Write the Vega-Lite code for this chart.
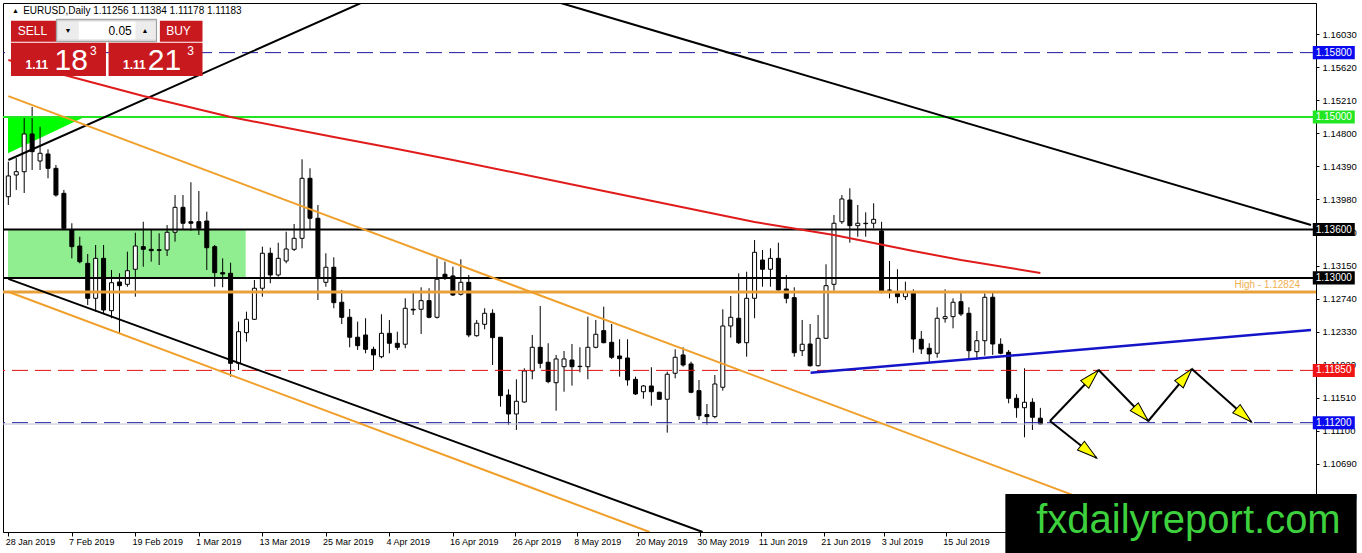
{
"$schema": "https://vega.github.io/schema/vega-lite/v6.json",
"width": 1313, "height": 529,
"autosize": {"type": "none"},
"padding": {"left": 3, "top": 3, "right": 46, "bottom": 21},
"background": "#ffffff",
"config": {"view": {"stroke": "#000000", "strokeWidth": 1}, "axis": {"grid": false, "domainColor": "#000000", "tickColor": "#000000", "labelColor": "#000000", "labelFont": "Liberation Sans", "labelFontSize": 9.5}, "axisX": {"labelFontSize": 9}},
"data": {"values": [{}]},
"datasets": {
"candles": [
{"i":0,"date":"2019-01-28","open":1.14009,"high":1.14444,"low":1.13906,"close":1.14267},
{"i":1,"date":"2019-01-29","open":1.14279,"high":1.14490,"low":1.14093,"close":1.14320},
{"i":2,"date":"2019-01-30","open":1.14320,"high":1.14988,"low":1.14055,"close":1.14789},
{"i":3,"date":"2019-01-31","open":1.14789,"high":1.15124,"low":1.14341,"close":1.14569},
{"i":4,"date":"2019-02-01","open":1.14453,"high":1.14879,"low":1.14341,"close":1.14549},
{"i":5,"date":"2019-02-04","open":1.14540,"high":1.14598,"low":1.14238,"close":1.14362},
{"i":6,"date":"2019-02-05","open":1.14362,"high":1.14403,"low":1.14009,"close":1.14030},
{"i":7,"date":"2019-02-06","open":1.14051,"high":1.14093,"low":1.13595,"close":1.13616},
{"i":8,"date":"2019-02-07","open":1.13595,"high":1.13679,"low":1.13243,"close":1.13388},
{"i":9,"date":"2019-02-08","open":1.13396,"high":1.13512,"low":1.13181,"close":1.13201},
{"i":10,"date":"2019-02-11","open":1.13181,"high":1.13297,"low":1.12663,"close":1.12746},
{"i":11,"date":"2019-02-12","open":1.12746,"high":1.13409,"low":1.12580,"close":1.13243},
{"i":12,"date":"2019-02-13","open":1.13243,"high":1.13409,"low":1.12560,"close":1.12601},
{"i":13,"date":"2019-02-14","open":1.12592,"high":1.13098,"low":1.12498,"close":1.12940},
{"i":14,"date":"2019-02-15","open":1.12949,"high":1.13057,"low":1.12311,"close":1.12903},
{"i":15,"date":"2019-02-18","open":1.12920,"high":1.13326,"low":1.12890,"close":1.13089},
{"i":16,"date":"2019-02-19","open":1.13107,"high":1.13562,"low":1.12766,"close":1.13396},
{"i":17,"date":"2019-02-20","open":1.13388,"high":1.13698,"low":1.13139,"close":1.13355},
{"i":18,"date":"2019-02-21","open":1.13355,"high":1.13595,"low":1.13201,"close":1.13338},
{"i":19,"date":"2019-02-22","open":1.13350,"high":1.13554,"low":1.13160,"close":1.13342},
{"i":20,"date":"2019-02-25","open":1.13347,"high":1.13657,"low":1.13272,"close":1.13567},
{"i":21,"date":"2019-02-26","open":1.13567,"high":1.14030,"low":1.13450,"close":1.13877},
{"i":22,"date":"2019-02-27","open":1.13877,"high":1.14030,"low":1.13595,"close":1.13679},
{"i":23,"date":"2019-02-28","open":1.13698,"high":1.14188,"low":1.13587,"close":1.13679},
{"i":24,"date":"2019-03-01","open":1.13698,"high":1.14080,"low":1.13533,"close":1.13616},
{"i":25,"date":"2019-03-04","open":1.13707,"high":1.13823,"low":1.13098,"close":1.13375},
{"i":26,"date":"2019-03-05","open":1.13388,"high":1.13409,"low":1.12890,"close":1.13065},
{"i":27,"date":"2019-03-06","open":1.13065,"high":1.13243,"low":1.12883,"close":1.13048},
{"i":28,"date":"2019-03-07","open":1.13057,"high":1.13189,"low":1.11772,"close":1.11938},
{"i":29,"date":"2019-03-08","open":1.11938,"high":1.12456,"low":1.11855,"close":1.12331},
{"i":30,"date":"2019-03-11","open":1.12319,"high":1.12580,"low":1.12207,"close":1.12485},
{"i":31,"date":"2019-03-12","open":1.12485,"high":1.12974,"low":1.12477,"close":1.12871},
{"i":32,"date":"2019-03-13","open":1.12871,"high":1.13388,"low":1.12766,"close":1.13306},
{"i":33,"date":"2019-03-14","open":1.13306,"high":1.13375,"low":1.12933,"close":1.13036},
{"i":34,"date":"2019-03-15","open":1.13036,"high":1.13437,"low":1.13015,"close":1.13243},
{"i":35,"date":"2019-03-18","open":1.13210,"high":1.13574,"low":1.13181,"close":1.13359},
{"i":36,"date":"2019-03-19","open":1.13355,"high":1.13670,"low":1.13334,"close":1.13492},
{"i":37,"date":"2019-03-20","open":1.13492,"high":1.14474,"low":1.13368,"close":1.14238},
{"i":38,"date":"2019-03-21","open":1.14238,"high":1.14362,"low":1.13595,"close":1.13741},
{"i":39,"date":"2019-03-22","open":1.13741,"high":1.13906,"low":1.12725,"close":1.12995},
{"i":40,"date":"2019-03-25","open":1.12945,"high":1.13306,"low":1.12890,"close":1.13132},
{"i":41,"date":"2019-03-26","open":1.13132,"high":1.13256,"low":1.12622,"close":1.12692},
{"i":42,"date":"2019-03-27","open":1.12697,"high":1.12849,"low":1.12427,"close":1.12510},
{"i":43,"date":"2019-03-28","open":1.12510,"high":1.12613,"low":1.12137,"close":1.12262},
{"i":44,"date":"2019-03-29","open":1.12262,"high":1.12456,"low":1.12104,"close":1.12157},
{"i":45,"date":"2019-04-01","open":1.12290,"high":1.12498,"low":1.12063,"close":1.12112},
{"i":46,"date":"2019-04-02","open":1.12112,"high":1.12145,"low":1.11855,"close":1.12042},
{"i":47,"date":"2019-04-03","open":1.12020,"high":1.12547,"low":1.12001,"close":1.12311},
{"i":48,"date":"2019-04-04","open":1.12311,"high":1.12477,"low":1.12063,"close":1.12187},
{"i":49,"date":"2019-04-05","open":1.12187,"high":1.12331,"low":1.12104,"close":1.12137},
{"i":50,"date":"2019-04-08","open":1.12175,"high":1.12746,"low":1.12125,"close":1.12622},
{"i":51,"date":"2019-04-09","open":1.12610,"high":1.12816,"low":1.12539,"close":1.12601},
{"i":52,"date":"2019-04-10","open":1.12610,"high":1.12883,"low":1.12303,"close":1.12717},
{"i":53,"date":"2019-04-11","open":1.12717,"high":1.12871,"low":1.12498,"close":1.12510},
{"i":54,"date":"2019-04-12","open":1.12510,"high":1.13243,"low":1.12495,"close":1.12983},
{"i":55,"date":"2019-04-15","open":1.13045,"high":1.13201,"low":1.12974,"close":1.13007},
{"i":56,"date":"2019-04-16","open":1.13024,"high":1.13139,"low":1.12775,"close":1.12787},
{"i":57,"date":"2019-04-17","open":1.12796,"high":1.13231,"low":1.12780,"close":1.12945},
{"i":58,"date":"2019-04-18","open":1.12945,"high":1.13036,"low":1.12262,"close":1.12290},
{"i":59,"date":"2019-04-19","open":1.12281,"high":1.12477,"low":1.12269,"close":1.12436},
{"i":60,"date":"2019-04-22","open":1.12423,"high":1.12622,"low":1.12361,"close":1.12560},
{"i":61,"date":"2019-04-23","open":1.12560,"high":1.12610,"low":1.11917,"close":1.12257},
{"i":62,"date":"2019-04-24","open":1.12262,"high":1.12265,"low":1.11399,"close":1.11536},
{"i":63,"date":"2019-04-25","open":1.11544,"high":1.11615,"low":1.11171,"close":1.11308},
{"i":64,"date":"2019-04-26","open":1.11308,"high":1.11739,"low":1.11109,"close":1.11466},
{"i":65,"date":"2019-04-29","open":1.11457,"high":1.11876,"low":1.11449,"close":1.11843},
{"i":66,"date":"2019-04-30","open":1.11843,"high":1.12290,"low":1.11739,"close":1.12137},
{"i":67,"date":"2019-05-01","open":1.12137,"high":1.12651,"low":1.11876,"close":1.11938},
{"i":68,"date":"2019-05-02","open":1.11951,"high":1.12187,"low":1.11690,"close":1.11710},
{"i":69,"date":"2019-05-03","open":1.11697,"high":1.12042,"low":1.11349,"close":1.11992},
{"i":70,"date":"2019-05-06","open":1.11896,"high":1.12091,"low":1.11585,"close":1.11992},
{"i":71,"date":"2019-05-07","open":1.11979,"high":1.12178,"low":1.11660,"close":1.11896},
{"i":72,"date":"2019-05-08","open":1.11897,"high":1.12137,"low":1.11826,"close":1.11901},
{"i":73,"date":"2019-05-09","open":1.11896,"high":1.12518,"low":1.11739,"close":1.12137},
{"i":74,"date":"2019-05-10","open":1.12137,"high":1.12477,"low":1.12125,"close":1.12299},
{"i":75,"date":"2019-05-13","open":1.12344,"high":1.12642,"low":1.12187,"close":1.12194},
{"i":76,"date":"2019-05-14","open":1.12199,"high":1.12427,"low":1.11992,"close":1.12013},
{"i":77,"date":"2019-05-15","open":1.12029,"high":1.12237,"low":1.11772,"close":1.11996},
{"i":78,"date":"2019-05-16","open":1.12004,"high":1.12237,"low":1.11660,"close":1.11731},
{"i":79,"date":"2019-05-17","open":1.11739,"high":1.11772,"low":1.11544,"close":1.11557},
{"i":80,"date":"2019-05-20","open":1.11585,"high":1.11669,"low":1.11498,"close":1.11656},
{"i":81,"date":"2019-05-21","open":1.11656,"high":1.11889,"low":1.11411,"close":1.11585},
{"i":82,"date":"2019-05-22","open":1.11578,"high":1.11585,"low":1.11482,"close":1.11491},
{"i":83,"date":"2019-05-23","open":1.11491,"high":1.11834,"low":1.11076,"close":1.11802},
{"i":84,"date":"2019-05-24","open":1.11814,"high":1.12112,"low":1.11752,"close":1.12013},
{"i":85,"date":"2019-05-27","open":1.12042,"high":1.12137,"low":1.11896,"close":1.11917},
{"i":86,"date":"2019-05-28","open":1.11930,"high":1.11958,"low":1.11566,"close":1.11578},
{"i":87,"date":"2019-05-29","open":1.11598,"high":1.11731,"low":1.11234,"close":1.11287},
{"i":88,"date":"2019-05-30","open":1.11300,"high":1.11432,"low":1.11171,"close":1.11275},
{"i":89,"date":"2019-05-31","open":1.11275,"high":1.11793,"low":1.11255,"close":1.11681},
{"i":90,"date":"2019-06-03","open":1.11640,"high":1.12610,"low":1.11598,"close":1.12402},
{"i":91,"date":"2019-06-04","open":1.12402,"high":1.12775,"low":1.12257,"close":1.12510},
{"i":92,"date":"2019-06-05","open":1.12498,"high":1.13057,"low":1.12178,"close":1.12194},
{"i":93,"date":"2019-06-06","open":1.12194,"high":1.13077,"low":1.12020,"close":1.12746},
{"i":94,"date":"2019-06-07","open":1.12746,"high":1.13471,"low":1.12498,"close":1.13318},
{"i":95,"date":"2019-06-10","open":1.13222,"high":1.13347,"low":1.12890,"close":1.13107},
{"i":96,"date":"2019-06-11","open":1.13107,"high":1.13368,"low":1.12890,"close":1.13243},
{"i":97,"date":"2019-06-12","open":1.13243,"high":1.13437,"low":1.12841,"close":1.12849},
{"i":98,"date":"2019-06-13","open":1.12862,"high":1.13036,"low":1.12684,"close":1.12746},
{"i":99,"date":"2019-06-14","open":1.12754,"high":1.12883,"low":1.12020,"close":1.12070},
{"i":100,"date":"2019-06-17","open":1.12095,"high":1.12477,"low":1.12029,"close":1.12175},
{"i":101,"date":"2019-06-18","open":1.12178,"high":1.12427,"low":1.11896,"close":1.11908},
{"i":102,"date":"2019-06-19","open":1.11908,"high":1.12539,"low":1.11900,"close":1.12249},
{"i":103,"date":"2019-06-20","open":1.12249,"high":1.13169,"low":1.12240,"close":1.12903},
{"i":104,"date":"2019-06-21","open":1.12920,"high":1.13782,"low":1.12841,"close":1.13679},
{"i":105,"date":"2019-06-24","open":1.13698,"high":1.14030,"low":1.13670,"close":1.13981},
{"i":106,"date":"2019-06-25","open":1.13968,"high":1.14114,"low":1.13437,"close":1.13649},
{"i":107,"date":"2019-06-26","open":1.13649,"high":1.13906,"low":1.13512,"close":1.13679},
{"i":108,"date":"2019-06-27","open":1.13679,"high":1.13815,"low":1.13512,"close":1.13674},
{"i":109,"date":"2019-06-28","open":1.13679,"high":1.13927,"low":1.13616,"close":1.13728},
{"i":110,"date":"2019-07-01","open":1.13583,"high":1.13698,"low":1.12808,"close":1.12837},
{"i":111,"date":"2019-07-02","open":1.12849,"high":1.13210,"low":1.12746,"close":1.12845},
{"i":112,"date":"2019-07-03","open":1.12808,"high":1.13107,"low":1.12684,"close":1.12766},
{"i":113,"date":"2019-07-04","open":1.12766,"high":1.12953,"low":1.12725,"close":1.12828},
{"i":114,"date":"2019-07-05","open":1.12816,"high":1.12858,"low":1.12070,"close":1.12240},
{"i":115,"date":"2019-07-08","open":1.12237,"high":1.12340,"low":1.12054,"close":1.12116},
{"i":116,"date":"2019-07-09","open":1.12125,"high":1.12187,"low":1.11958,"close":1.12054},
{"i":117,"date":"2019-07-10","open":1.12063,"high":1.12635,"low":1.12008,"close":1.12498},
{"i":118,"date":"2019-07-11","open":1.12493,"high":1.12858,"low":1.12443,"close":1.12518},
{"i":119,"date":"2019-07-12","open":1.12518,"high":1.12746,"low":1.12373,"close":1.12697},
{"i":120,"date":"2019-07-15","open":1.12704,"high":1.12816,"low":1.12526,"close":1.12551},
{"i":121,"date":"2019-07-16","open":1.12560,"high":1.12635,"low":1.11979,"close":1.12095},
{"i":122,"date":"2019-07-17","open":1.12083,"high":1.12340,"low":1.11979,"close":1.12219},
{"i":123,"date":"2019-07-18","open":1.12219,"high":1.12808,"low":1.12033,"close":1.12759},
{"i":124,"date":"2019-07-19","open":1.12759,"high":1.12816,"low":1.12042,"close":1.12178},
{"i":125,"date":"2019-07-22","open":1.12175,"high":1.12249,"low":1.12050,"close":1.12063},
{"i":126,"date":"2019-07-23","open":1.12075,"high":1.12104,"low":1.11441,"close":1.11503},
{"i":127,"date":"2019-07-24","open":1.11503,"high":1.11553,"low":1.11262,"close":1.11386},
{"i":128,"date":"2019-07-25","open":1.11386,"high":1.11876,"low":1.11019,"close":1.11454},
{"i":129,"date":"2019-07-26","open":1.11454,"high":1.11503,"low":1.11109,"close":1.11267},
{"i":130,"date":"2019-07-29","open":1.11256,"high":1.11384,"low":1.11178,"close":1.11183}
],
"ma": [
{"i":0,"ma":1.15708},{"i":8,"ma":1.15497},{"i":17,"ma":1.15261},{"i":28,"ma":1.15000},{"i":41,"ma":1.14751},{"i":49,"ma":1.14602},{"i":56,"ma":1.14465},{"i":75,"ma":1.14080},{"i":94,"ma":1.13695},{"i":104,"ma":1.13533},{"i":114,"ma":1.13334},{"i":120,"ma":1.13222},{"i":130,"ma":1.13061}
],
"levels": [
{"price":1.158,"label":"1.15800","group":"blue"},
{"price":1.15,"label":"1.15000","group":"green"},
{"price":1.136,"label":"1.13600","group":"black"},
{"price":1.13,"label":"1.13000","group":"black"},
{"price":1.1185,"label":"1.11850","group":"red"},
{"price":1.112,"label":"1.11200","group":"blue"}
],
"greenzone": [
{"i":-0.04,"lower":1.14549,"upper":1.15},
{"i":9.59,"lower":1.15,"upper":1.15}
],
"trends": [
{"line":"A","i":0,"price":1.14465},{"line":"A","i":44.34,"price":1.16413},
{"line":"B","i":69.59,"price":1.16417},{"line":"B","i":164.09,"price":1.13657},
{"line":"C","i":0,"price":1.12987},{"line":"C","i":87.46,"price":1.09841},
{"line":"D","i":0,"price":1.15259},{"line":"D","i":146.53,"price":1.09841},
{"line":"E","i":0,"price":1.12828},{"line":"E","i":80.78,"price":1.09841},
{"line":"F","i":101.05,"price":1.11822},{"line":"F","i":164.09,"price":1.12352}
],
"arrows": [
{"seg":1,"from_i":131.21,"from_p":1.11221,"to_i":137.34,"to_p":1.11855},
{"seg":2,"from_i":137.34,"from_p":1.11855,"to_i":143.59,"to_p":1.11221},
{"seg":3,"from_i":143.59,"from_p":1.11221,"to_i":149.09,"to_p":1.11868},
{"seg":4,"from_i":149.09,"from_p":1.11868,"to_i":156.59,"to_p":1.11209},
{"seg":5,"from_i":131.21,"from_p":1.11221,"to_i":137.09,"to_p":1.10761}
]
},
"layer": [
{"data": {"name": "candles"}, "mark": {"type": "rule", "opacity": 0},
 "encoding": {
  "x": {"field": "i", "type": "quantitative", "scale": {"domain": [-0.04, 164.09], "nice": false, "zero": false},
        "axis": {"orient": "bottom", "title": null, "values": [0, 7.96, 15.96, 23.96, 31.96, 39.96, 47.96, 55.96, 63.84, 71.59, 79.34, 87.09, 94.84, 102.71, 110.34, 118.09], "tickCount": 40,
                 "labelExpr": "datum.value < 4 ? '28 Jan 2019' : datum.value < 12 ? '7 Feb 2019' : datum.value < 20 ? '19 Feb 2019' : datum.value < 28 ? '1 Mar 2019' : datum.value < 36 ? '13 Mar 2019' : datum.value < 44 ? '25 Mar 2019' : datum.value < 52 ? '4 Apr 2019' : datum.value < 60 ? '16 Apr 2019' : datum.value < 67.7 ? '26 Apr 2019' : datum.value < 75.5 ? '8 May 2019' : datum.value < 83.2 ? '20 May 2019' : datum.value < 91 ? '30 May 2019' : datum.value < 98.8 ? '11 Jun 2019' : datum.value < 106.5 ? '21 Jun 2019' : datum.value < 114.2 ? '3 Jul 2019' : '15 Jul 2019'",
                 "labelAlign": "left", "labelFlush": false, "labelOverlap": false, "labelOffset": -3, "tickSize": 4, "labelPadding": 1}},
  "y": {"field": "low", "type": "quantitative", "scale": {"domain": [1.09841, 1.16417], "nice": false, "zero": false},
        "axis": {"orient": "right", "title": null, "values": [1.1028, 1.1069, 1.111, 1.1151, 1.1192, 1.1233, 1.1274, 1.1315, 1.1357, 1.1398, 1.1439, 1.148, 1.1521, 1.1562, 1.1603], "tickCount": 40, "format": ".5f", "tickSize": 3, "labelPadding": 3, "labelOverlap": false, "labelBaseline": "middle", "labelFlush": false}},
  "y2": {"field": "high"}}},
{"mark": {"type": "rect", "color": "#90ee90"}, "encoding": {"x": {"datum": -0.04}, "x2": {"datum": 29.9}, "y": {"datum": 1.136}, "y2": {"datum": 1.13}}},
{"data": {"name": "greenzone"}, "mark": {"type": "area", "color": "#00ff00", "opacity": 1}, "encoding": {"x": {"field": "i", "type": "quantitative"}, "y": {"field": "lower", "type": "quantitative"}, "y2": {"field": "upper"}}},
{"data": {"name": "candles"}, "mark": {"type": "rule", "color": "#000000", "strokeWidth": 1},
 "encoding": {"x": {"field": "i", "type": "quantitative"}, "y": {"field": "low", "type": "quantitative"}, "y2": {"field": "high"}}},
{"data": {"name": "candles"}, "mark": {"type": "bar", "width": 4, "stroke": "#000000", "strokeWidth": 1},
 "encoding": {"x": {"field": "i", "type": "quantitative"}, "y": {"field": "open", "type": "quantitative"}, "y2": {"field": "close"},
  "fill": {"condition": {"test": "datum.close >= datum.open", "value": "#ffffff"}, "value": "#000000"}}},
{"data": {"name": "levels"}, "transform": [{"filter": "datum.group == 'blue'"}], "mark": {"type": "rule", "color": "#1a1a9e", "strokeWidth": 1, "strokeDash": [16, 7]}, "encoding": {"y": {"field": "price", "type": "quantitative"}}},
{"data": {"name": "levels"}, "transform": [{"filter": "datum.group == 'green'"}], "mark": {"type": "rule", "color": "#22e622", "strokeWidth": 2}, "encoding": {"y": {"field": "price", "type": "quantitative"}}},
{"data": {"name": "levels"}, "transform": [{"filter": "datum.group == 'black'"}], "mark": {"type": "rule", "color": "#000000", "strokeWidth": 2}, "encoding": {"y": {"field": "price", "type": "quantitative"}}},
{"data": {"name": "levels"}, "transform": [{"filter": "datum.group == 'red'"}], "mark": {"type": "rule", "color": "#e01010", "strokeWidth": 1, "strokeDash": [16, 7]}, "encoding": {"y": {"field": "price", "type": "quantitative"}}},
{"mark": {"type": "rule", "color": "#e9a23b", "strokeWidth": 3}, "encoding": {"y": {"datum": 1.12824}}},
{"mark": {"type": "rule", "color": "#c0c0dc", "strokeWidth": 1}, "encoding": {"y": {"datum": 1.11183}}},
{"data": {"name": "trends"}, "transform": [{"filter": "indexof(['A','B','C'], datum.line) >= 0"}], "mark": {"type": "line", "color": "#000000", "strokeWidth": 2, "clip": true}, "encoding": {"x": {"field": "i", "type": "quantitative"}, "y": {"field": "price", "type": "quantitative"}, "detail": {"field": "line"}}},
{"data": {"name": "trends"}, "transform": [{"filter": "indexof(['D','E'], datum.line) >= 0"}], "mark": {"type": "line", "color": "#ef9f2a", "strokeWidth": 2, "clip": true}, "encoding": {"x": {"field": "i", "type": "quantitative"}, "y": {"field": "price", "type": "quantitative"}, "detail": {"field": "line"}}},
{"data": {"name": "trends"}, "transform": [{"filter": "datum.line == 'F'"}], "mark": {"type": "line", "color": "#1414c8", "strokeWidth": 2.5, "clip": true}, "encoding": {"x": {"field": "i", "type": "quantitative"}, "y": {"field": "price", "type": "quantitative"}}},
{"data": {"name": "ma"}, "mark": {"type": "line", "color": "#e01b1b", "strokeWidth": 2, "clip": true}, "encoding": {"x": {"field": "i", "type": "quantitative"}, "y": {"field": "ma", "type": "quantitative"}}},
{"data": {"name": "arrows"}, "mark": {"type": "rule", "color": "#000000", "strokeWidth": 2}, "encoding": {"x": {"field": "from_i", "type": "quantitative"}, "y": {"field": "from_p", "type": "quantitative"}, "x2": {"field": "to_i"}, "y2": {"field": "to_p"}}},
{"data": {"name": "arrows"}, "transform": [{"filter": "datum.seg == 1"}], "mark": {"type": "point", "shape": "M0,0L0.28,1L-0.28,1Z", "filled": true, "fill": "#ffff00", "stroke": "#000000", "strokeWidth": 1, "size": 1600, "angle": 43.9, "opacity": 1}, "encoding": {"x": {"field": "to_i", "type": "quantitative"}, "y": {"field": "to_p", "type": "quantitative"}}},
{"data": {"name": "arrows"}, "transform": [{"filter": "datum.seg == 2"}], "mark": {"type": "point", "shape": "M0,0L0.28,1L-0.28,1Z", "filled": true, "fill": "#ffff00", "stroke": "#000000", "strokeWidth": 1, "size": 1600, "angle": 135.6, "opacity": 1}, "encoding": {"x": {"field": "to_i", "type": "quantitative"}, "y": {"field": "to_p", "type": "quantitative"}}},
{"data": {"name": "arrows"}, "transform": [{"filter": "datum.seg == 3"}], "mark": {"type": "point", "shape": "M0,0L0.28,1L-0.28,1Z", "filled": true, "fill": "#ffff00", "stroke": "#000000", "strokeWidth": 1, "size": 1600, "angle": 40.2, "opacity": 1}, "encoding": {"x": {"field": "to_i", "type": "quantitative"}, "y": {"field": "to_p", "type": "quantitative"}}},
{"data": {"name": "arrows"}, "transform": [{"filter": "datum.seg == 4"}], "mark": {"type": "point", "shape": "M0,0L0.28,1L-0.28,1Z", "filled": true, "fill": "#ffff00", "stroke": "#000000", "strokeWidth": 1, "size": 1600, "angle": 131.5, "opacity": 1}, "encoding": {"x": {"field": "to_i", "type": "quantitative"}, "y": {"field": "to_p", "type": "quantitative"}}},
{"data": {"name": "arrows"}, "transform": [{"filter": "datum.seg == 5"}], "mark": {"type": "point", "shape": "M0,0L0.28,1L-0.28,1Z", "filled": true, "fill": "#ffff00", "stroke": "#000000", "strokeWidth": 1, "size": 1600, "angle": 128.2, "opacity": 1}, "encoding": {"x": {"field": "to_i", "type": "quantitative"}, "y": {"field": "to_p", "type": "quantitative"}}},
{"mark": {"type": "text", "text": "High - 1.12824", "color": "#f0b050", "font": "Liberation Sans", "fontSize": 10, "align": "right", "baseline": "bottom", "dy": -2}, "encoding": {"x": {"datum": 162.71}, "y": {"datum": 1.12824}}},
{"data": {"name": "levels"}, "mark": {"type": "point", "shape": "M-1,-0.31L1,-0.31L1,0.31L-1,0.31Z", "filled": true, "size": 1764, "opacity": 1, "clip": false},
 "encoding": {"x": {"datum": 166.96}, "y": {"field": "price", "type": "quantitative"},
  "color": {"field": "group", "type": "nominal", "scale": {"domain": ["blue", "green", "black", "red"], "range": ["#0a0aee", "#22e622", "#000000", "#f01414"]}, "legend": null}}},
{"data": {"name": "levels"}, "mark": {"type": "text", "color": "#ffffff", "font": "Liberation Sans", "fontSize": 10, "align": "center", "baseline": "middle", "clip": false},
 "encoding": {"x": {"datum": 166.96}, "y": {"field": "price", "type": "quantitative"}, "text": {"field": "label"}}},
{"mark": {"type": "text", "text": "▲", "color": "#000000", "fontSize": 7, "align": "center", "baseline": "middle"}, "encoding": {"x": {"datum": 0.9}, "y": {"datum": 1.16317}}},
{"mark": {"type": "text", "text": "EURUSD,Daily  1.11256 1.11384 1.11178 1.11183", "color": "#000000", "font": "Liberation Sans", "fontSize": 10, "align": "left", "baseline": "middle"}, "encoding": {"x": {"datum": 1.875}, "y": {"datum": 1.16317}}},
{"mark": {"type": "rect", "color": "#c8191f"}, "encoding": {"x": {"datum": 0.3375}, "x2": {"datum": 6.05}, "y": {"datum": 1.16197}, "y2": {"datum": 1.15936}}},
{"mark": {"type": "rect", "color": "#c8191f"}, "encoding": {"x": {"datum": 19.09}, "x2": {"datum": 24.46}, "y": {"datum": 1.16197}, "y2": {"datum": 1.15936}}},
{"mark": {"type": "rect", "fill": "#d6d6d6", "stroke": "#9a9a9a", "strokeWidth": 1}, "encoding": {"x": {"datum": 6.05}, "x2": {"datum": 18.675}, "y": {"datum": 1.16214}, "y2": {"datum": 1.15936}}},
{"mark": {"type": "rect", "fill": "#ececec"}, "encoding": {"x": {"datum": 6.25}, "x2": {"datum": 8.84}, "y": {"datum": 1.16187}, "y2": {"datum": 1.15963}}},
{"mark": {"type": "rect", "fill": "#ececec"}, "encoding": {"x": {"datum": 16.05}, "x2": {"datum": 18.55}, "y": {"datum": 1.16187}, "y2": {"datum": 1.15963}}},
{"mark": {"type": "rect", "fill": "#ffffff"}, "encoding": {"x": {"datum": 8.84}, "x2": {"datum": 16.05}, "y": {"datum": 1.16187}, "y2": {"datum": 1.15963}}},
{"mark": {"type": "rect", "color": "#c8191f"}, "encoding": {"x": {"datum": 0.3375}, "x2": {"datum": 12.3}, "y": {"datum": 1.15923}, "y2": {"datum": 1.1551}}},
{"mark": {"type": "rect", "color": "#c8191f"}, "encoding": {"x": {"datum": 12.625}, "x2": {"datum": 24.46}, "y": {"datum": 1.15923}, "y2": {"datum": 1.1551}}},
{"mark": {"type": "text", "text": "SELL", "color": "#ffffff", "font": "Liberation Sans", "fontSize": 12, "align": "center", "baseline": "middle"}, "encoding": {"x": {"datum": 3.04}, "y": {"datum": 1.16073}}},
{"mark": {"type": "text", "text": "BUY", "color": "#ffffff", "font": "Liberation Sans", "fontSize": 12, "align": "center", "baseline": "middle"}, "encoding": {"x": {"datum": 21.44}, "y": {"datum": 1.16073}}},
{"mark": {"type": "text", "text": "0.05", "color": "#000000", "font": "Liberation Sans", "fontSize": 12, "align": "right", "baseline": "middle"}, "encoding": {"x": {"datum": 15.55}, "y": {"datum": 1.16073}}},
{"mark": {"type": "text", "text": "▼", "color": "#000000", "fontSize": 7, "align": "center", "baseline": "middle"}, "encoding": {"x": {"datum": 7.5}, "y": {"datum": 1.16073}}},
{"mark": {"type": "text", "text": "▲", "color": "#000000", "fontSize": 7, "align": "center", "baseline": "middle"}, "encoding": {"x": {"datum": 17.21}, "y": {"datum": 1.16073}}},
{"mark": {"type": "text", "text": "1.11", "color": "#ffffff", "font": "Liberation Sans", "fontSize": 12, "fontWeight": "bold", "align": "center", "baseline": "middle"}, "encoding": {"x": {"datum": 3.59}, "y": {"datum": 1.15646}}},
{"mark": {"type": "text", "text": "1.11", "color": "#ffffff", "font": "Liberation Sans", "fontSize": 12, "fontWeight": "bold", "align": "center", "baseline": "middle"}, "encoding": {"x": {"datum": 15.875}, "y": {"datum": 1.15646}}},
{"mark": {"type": "text", "text": "18", "color": "#ffffff", "font": "Liberation Sans", "fontSize": 30, "align": "center", "baseline": "alphabetic"}, "encoding": {"x": {"datum": 7.925}, "y": {"datum": 1.15584}}},
{"mark": {"type": "text", "text": "21", "color": "#ffffff", "font": "Liberation Sans", "fontSize": 30, "align": "center", "baseline": "alphabetic"}, "encoding": {"x": {"datum": 19.675}, "y": {"datum": 1.15584}}},
{"mark": {"type": "text", "text": "3", "color": "#ffffff", "font": "Liberation Sans", "fontSize": 12, "align": "center", "baseline": "middle"}, "encoding": {"x": {"datum": 10.7}, "y": {"datum": 1.15817}}},
{"mark": {"type": "text", "text": "3", "color": "#ffffff", "font": "Liberation Sans", "fontSize": 12, "align": "center", "baseline": "middle"}, "encoding": {"x": {"datum": 22.95}, "y": {"datum": 1.15817}}},
{"mark": {"type": "rect", "color": "#000000", "clip": false}, "encoding": {"x": {"datum": 125.59}, "x2": {"datum": 169.84}, "y": {"datum": 1.10314}, "y2": {"datum": 1.0958}}},
{"mark": {"type": "text", "text": "fxdailyreport.com", "color": "#3ed13e", "font": "Liberation Sans", "fontSize": 40, "align": "center", "baseline": "alphabetic", "clip": false}, "encoding": {"x": {"datum": 148.65}, "y": {"datum": 1.09829}}}
]
}
